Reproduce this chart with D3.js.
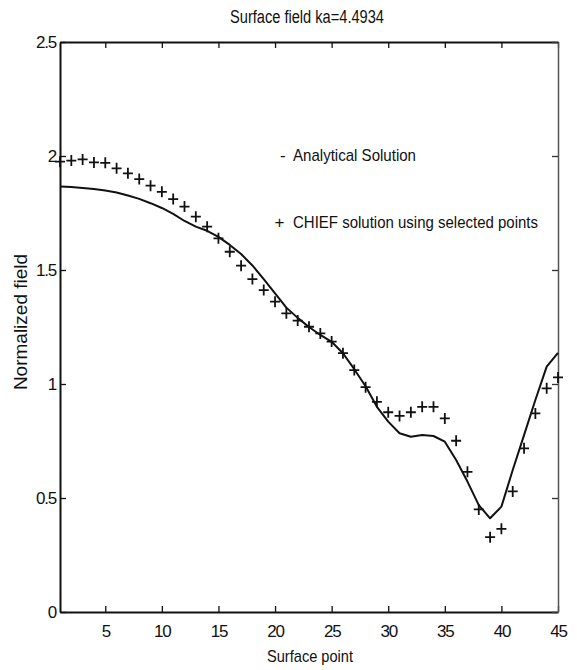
<!DOCTYPE html>
<html>
<head>
<meta charset="utf-8">
<script src="https://cdnjs.cloudflare.com/ajax/libs/d3/7.8.5/d3.min.js"></script>
<style>
  body { margin: 0; background: #fff; }
  text { font-family: "Liberation Sans", Arial, sans-serif; fill: #111; }
</style>
</head>
<body>
<script>
// surface point index 1..45
var points = d3.range(1, 46);

// CHIEF solution (crosses)
var chief = [1.975, 1.98, 1.985, 1.972, 1.97, 1.946, 1.924, 1.899, 1.87, 1.843,
             1.811, 1.778, 1.734, 1.69, 1.639, 1.58, 1.519, 1.46, 1.412, 1.361,
             1.31, 1.278, 1.251, 1.222, 1.186, 1.135, 1.061, 0.986, 0.922, 0.876,
             0.86, 0.876, 0.9, 0.9, 0.849, 0.751, 0.615, 0.45, 0.328, 0.365,
             0.529, 0.718, 0.871, 0.981, 1.029];

// analytical solution (solid line)
var analytical = [1.866, 1.864, 1.86, 1.855, 1.849, 1.84, 1.827, 1.812, 1.793, 1.772,
                  1.746, 1.715, 1.69, 1.672, 1.645, 1.61, 1.57, 1.52, 1.46, 1.398,
                  1.335, 1.29, 1.25, 1.215, 1.185, 1.135, 1.065, 0.99, 0.9, 0.835,
                  0.784, 0.769, 0.776, 0.772, 0.747, 0.667, 0.572, 0.469, 0.411, 0.462,
                  0.623, 0.776, 0.93, 1.076, 1.137];

var xTicks = [5, 10, 15, 20, 25, 30, 35, 40, 45];
var yTicks = [0, 0.5, 1, 1.5, 2, 2.5];
var yTickLabels = ["0", "0.5", "1", "1.5", "2", "2.5"];

function drawChart(){
    var width = 577, height = 670;
    var plotLeft = 60, plotRight = 558, plotTop = 42, plotBottom = 612;

    var svg = d3.select("body").append("svg")
        .attr("width", width)
        .attr("height", height);

    var x = d3.scaleLinear().domain([1, 45]).range([plotLeft, plotRight]);
    var y = d3.scaleLinear().domain([0, 2.5]).range([plotBottom, plotTop]);

    // axes, ticks pointing inward
    var gBottom = svg.append("g")
        .attr("transform", "translate(0," + plotBottom + ")")
        .call(d3.axisBottom(x).tickValues(xTicks).tickSize(-6).tickSizeOuter(0).tickPadding(12));
    var gTop = svg.append("g")
        .attr("transform", "translate(0," + plotTop + ")")
        .call(d3.axisTop(x).tickValues(xTicks).tickSize(-6).tickSizeOuter(0).tickFormat(""));
    var gLeft = svg.append("g")
        .attr("transform", "translate(" + plotLeft + ",0)")
        .call(d3.axisLeft(y).tickValues(yTicks).tickSize(-6).tickSizeOuter(0).tickPadding(4)
              .tickFormat(function(d, i){ return yTickLabels[i]; }));
    var gRight = svg.append("g")
        .attr("transform", "translate(" + plotRight + ",0)")
        .call(d3.axisRight(y).tickValues(yTicks).tickSize(-6).tickSizeOuter(0).tickFormat(""));

    [gBottom, gTop, gLeft].forEach(function(g){
        g.select(".domain").attr("stroke", "#111").attr("stroke-width", 2);
        g.selectAll(".tick line").attr("stroke", "#111").attr("stroke-width", 1.3);
    });
    gRight.select(".domain").attr("stroke", "#555").attr("stroke-width", 1.5);
    gRight.selectAll(".tick line").attr("stroke", "#333").attr("stroke-width", 1.3);

    svg.selectAll(".tick text")
        .attr("font-size", 17)
        .style("letter-spacing", "-1.2px")
        .style("font-family", "Liberation Sans, Arial, sans-serif")
        .attr("fill", "#111");
    gBottom.selectAll(".tick text").attr("dy", "0.75em");

    // analytical line
    var line = d3.line()
        .x(function(d, i){ return x(points[i]); })
        .y(function(d){ return y(d); });

    svg.append("path")
        .datum(analytical)
        .attr("fill", "none")
        .attr("stroke", "#111")
        .attr("stroke-width", 2)
        .attr("stroke-linejoin", "round")
        .attr("d", line);

    // CHIEF crosses
    svg.append("g").selectAll("path")
        .data(chief)
        .enter()
        .append("path")
        .attr("transform", function(d, i){ return "translate(" + x(points[i]) + "," + y(d) + ")"; })
        .attr("d", "M-5,0H5M0,-5.5V5.5")
        .attr("stroke", "#111")
        .attr("stroke-width", 1.8)
        .attr("fill", "none");

    // titles
    svg.append("text")
        .attr("x", 230).attr("y", 23)
        .attr("font-size", 18)
        .attr("textLength", 154)
        .attr("lengthAdjust", "spacingAndGlyphs")
        .text("Surface field ka=4.4934");

    svg.append("text")
        .attr("x", 267).attr("y", 662)
        .attr("font-size", 17)
        .attr("textLength", 86)
        .attr("lengthAdjust", "spacingAndGlyphs")
        .text("Surface point");

    svg.append("text")
        .attr("transform", "translate(27,322) rotate(-90)")
        .attr("text-anchor", "middle")
        .attr("font-size", 19)
        .text("Normalized field");

    // legend (text only, as in the original)
    svg.append("text")
        .attr("x", 280).attr("y", 160.5)
        .attr("font-size", 17)
        .text("-");
    svg.append("text")
        .attr("x", 293).attr("y", 160.5)
        .attr("font-size", 17)
        .attr("textLength", 123)
        .attr("lengthAdjust", "spacingAndGlyphs")
        .text("Analytical Solution");

    svg.append("text")
        .attr("x", 274.5).attr("y", 228)
        .attr("font-size", 17)
        .text("+");
    svg.append("text")
        .attr("x", 293).attr("y", 228)
        .attr("font-size", 17)
        .attr("textLength", 245)
        .attr("lengthAdjust", "spacingAndGlyphs")
        .text("CHIEF solution using selected points");
}

drawChart();
</script>
</body>
</html>
